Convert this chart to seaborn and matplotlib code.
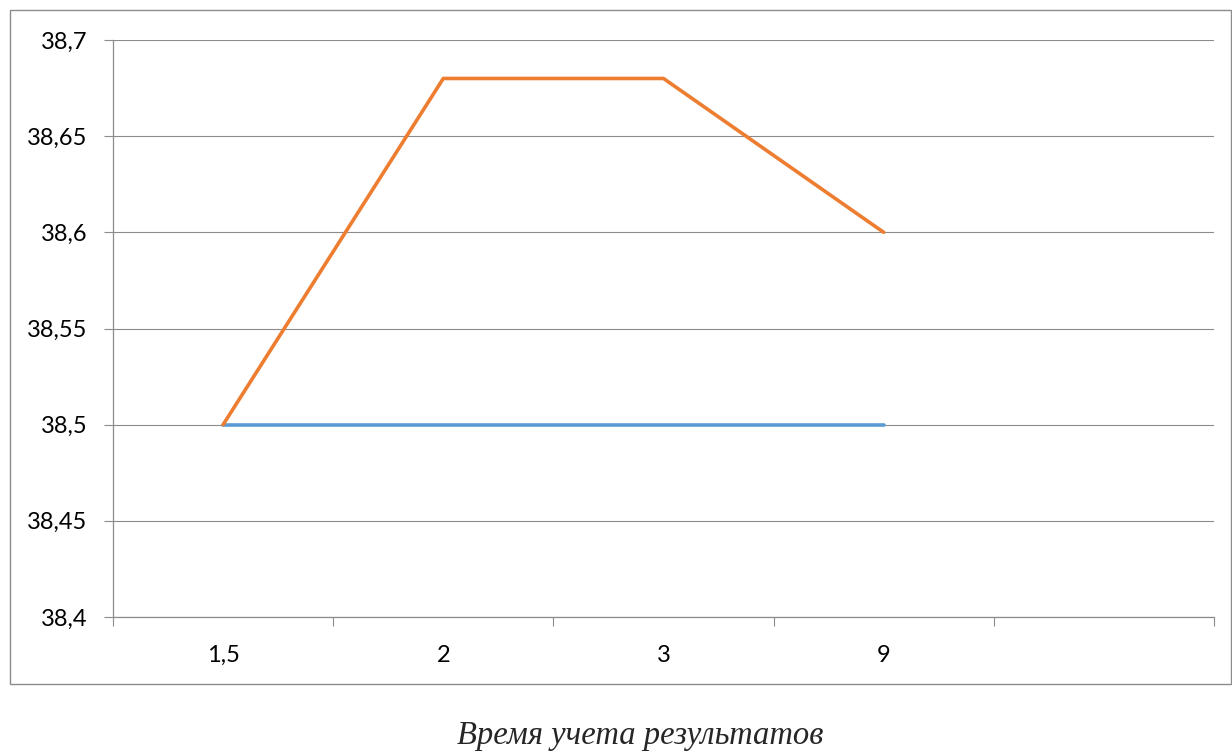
import matplotlib
matplotlib.use("Agg")
import matplotlib.pyplot as plt
from matplotlib.patches import Rectangle
import pandas as pd
import seaborn as sns

# Measurement times (category labels) and the two temperature series
times = ["1,5", "2", "3", "9"]
series_a = [38.5, 38.5, 38.5, 38.5]
series_b = [38.5, 38.68, 38.68, 38.6]
y_ticks = [38.4, 38.45, 38.5, 38.55, 38.6, 38.65, 38.7]
y_tick_labels = ["38,4", "38,45", "38,5", "38,55", "38,6", "38,65", "38,7"]
x_title = "Время учета результатов"

sns.set_style("white")
plt.rcParams["font.family"] = ["Lato", "DejaVu Sans"]

W, H = 1232, 753
fig = plt.figure(figsize=(W / 100, H / 100), dpi=100)
ax = fig.add_axes([113 / W, (H - 617) / H, (1214 - 113) / W, (617 - 40) / H])

df = pd.DataFrame({
    "pos": list(range(len(times))) * 2,
    "value": series_a + series_b,
    "series": ["a"] * len(times) + ["b"] * len(times),
})
sns.lineplot(data=df, x="pos", y="value", hue="series",
             palette={"a": "#5B9BD5", "b": "#ED7D31"},
             linewidth=2.6, legend=False, ax=ax, zorder=3)

ax.set_xlim(-0.5, 4.5)
ax.set_ylim(38.4, 38.7)
ax.set_yticks(y_ticks)
ax.set_yticklabels(y_tick_labels)
ax.set_xticks(range(len(times)))
ax.set_xticklabels(times)
ax.set_xticks([i - 0.5 for i in range(6)], minor=True)
ax.set_xlabel("")
ax.set_ylabel("")

grey = "#8c8c8c"
ax.yaxis.grid(True, color=grey, linewidth=0.8)
ax.xaxis.grid(False)
for s in ["top", "right"]:
    ax.spines[s].set_visible(False)
for s in ["left", "bottom"]:
    ax.spines[s].set_color(grey)
    ax.spines[s].set_linewidth(0.9)

ax.tick_params(axis="y", which="major", length=6.5, width=0.8, color=grey,
               pad=12, labelsize=17, labelcolor="black", left=True)
ax.tick_params(axis="x", which="major", length=0, pad=20, labelsize=17,
               labelcolor="black")
ax.tick_params(axis="x", which="minor", length=6.5, width=0.8, color=grey,
               direction="out", bottom=True)

# Outer chart border
fig.add_artist(Rectangle((10 / W, (H - 684) / H), (1231 - 10) / W, (684 - 10) / H,
                         transform=fig.transFigure, fill=False,
                         edgecolor=grey, linewidth=1.0))

fig.text(640 / W, 1 - 744 / H, x_title, ha="center", va="baseline",
         fontsize=23.5, style="italic", family=["Liberation Serif", "DejaVu Serif"])

fig.savefig("out.png", dpi=100, facecolor="white")
